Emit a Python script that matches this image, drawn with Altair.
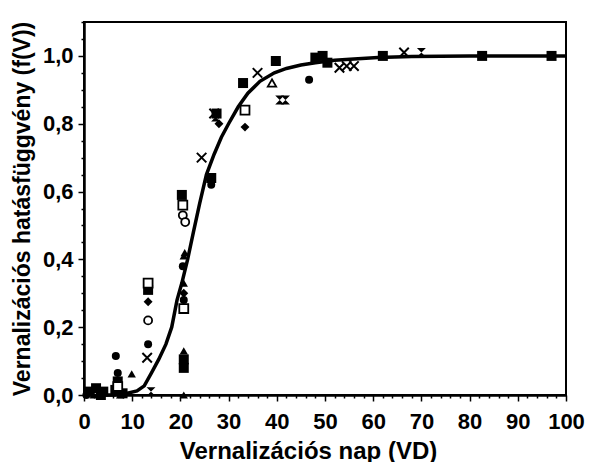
import altair as alt
import pandas as pd

# ---- data ----
# filled squares
fsq_x = [1.0, 2.5, 3.5, 4.0, 6.5, 7.0, 8.0, 13.3, 20.3, 20.7, 20.7, 26.4, 27.5, 33.0, 39.8, 48.0, 49.5, 50.5, 62.0, 82.6, 97.0]
fsq_y = [0.01, 0.02, 0.0, 0.01, 0.015, 0.04, 0.005, 0.31, 0.59, 0.105, 0.08, 0.64, 0.83, 0.92, 0.985, 0.995, 1.0, 0.98, 1.0, 1.0, 1.0]
# open squares
osq_x = [7.0, 13.3, 20.7, 20.5, 33.4]
osq_y = [0.025, 0.33, 0.255, 0.56, 0.84]
# filled circles
fci_x = [0.5, 6.6, 7.0, 13.3, 20.5, 20.7, 26.4, 46.7]
fci_y = [0.0, 0.115, 0.065, 0.15, 0.38, 0.28, 0.62, 0.93]
# open circles
oci_x = [13.3, 20.5, 21.0]
oci_y = [0.22, 0.53, 0.51]
# filled triangles
ftr_x = [2.0, 7.5, 9.9, 20.7, 20.9, 20.7, 20.7, 20.7]
ftr_y = [0.0, 0.0, 0.062, 0.41, 0.42, 0.33, 0.13, 0.0]
# open triangles
otr_x = [39.0]
otr_y = [0.92]
# crosses
crs_x = [13.1, 24.4, 27.0, 36.0, 53.0, 54.5, 56.0, 66.4]
crs_y = [0.11, 0.70, 0.83, 0.95, 0.965, 0.97, 0.97, 1.01]
# filled diamonds
dia_x = [13.3, 20.7, 28.0, 33.4]
dia_y = [0.275, 0.30, 0.80, 0.79]
# hourglass symbols
hgl_x = [13.9, 27.3, 40.6, 41.8, 70.0]
hgl_y = [0.01, 0.82, 0.87, 0.87, 1.01]
# fitted curve
curve_x = [3, 6, 9, 11, 12.5, 14, 15.5, 17, 18.2, 19.3, 20.3, 21.5, 22.7, 24, 25.4, 27, 28.5, 30, 32, 34,
           36.5, 39.5, 42, 45, 48, 52, 56, 61, 68, 80, 90, 100]
curve_y = [0.0, 0.0, 0.005, 0.012, 0.027, 0.065, 0.105, 0.15, 0.2, 0.28, 0.33, 0.40, 0.48, 0.565, 0.65, 0.71,
           0.76, 0.80, 0.85, 0.89, 0.925, 0.95, 0.963, 0.973, 0.98, 0.987, 0.991, 0.995, 0.998, 1.0, 1.0, 1.0]

# axis tick positions
x_ticks = list(range(0, 101, 2))
y_ticks = [round(i * 0.05, 2) for i in range(23)]

FONT = "Liberation Sans"

x_axis = alt.Axis(
    values=x_ticks,
    labelExpr="datum.value % 10 === 0 ? datum.label : ''",
    tickSize={"condition": {"test": "datum.value % 10 === 0", "value": 6}, "value": 3},
    grid=False, domainColor="black", domainWidth=2.5, tickColor="black", tickWidth=1.5,
    labelFont=FONT, labelFontWeight="bold", labelFontSize=22, labelColor="black",
    labelPadding=10, labelFlush=False, labelOverlap=False, labelBound=False,
    title="Vernalizációs nap (VD)", titleFont=FONT, titleFontWeight="bold", titleFontSize=24,
    titleColor="black", titleX=224, titleY=63, titleBaseline="alphabetic", titleAlign="center",
)
y_axis = alt.Axis(
    values=y_ticks,
    labelExpr="(round(datum.value*100) % 20 === 0 && datum.value < 1.05) ? replace(format(datum.value, '.1f'), '.', ',') : ''",
    tickSize={"condition": {"test": "round(datum.value*100) % 20 === 0", "value": 6}, "value": 3},
    grid=False, domainColor="black", domainWidth=2.5, tickColor="black", tickWidth=1.5,
    labelFont=FONT, labelFontWeight="bold", labelFontSize=22, labelColor="black",
    labelPadding=5, labelFlush=False, labelOverlap=False, labelBound=False,
    title="Vernalizációs hatásfüggvény (f(V))", titleFont=FONT, titleFontWeight="bold",
    titleFontSize=23, titleColor="black", titleX=-62, titleBaseline="middle", titleAlign="center",
)

X = alt.X("x:Q", scale=alt.Scale(domain=[0, 100], nice=False, zero=False), axis=x_axis)
Y = alt.Y("y:Q", scale=alt.Scale(domain=[0, 1.1], nice=False, zero=False), axis=y_axis)


def df(xs, ys):
    return pd.DataFrame({"x": xs, "y": ys})


curve = alt.Chart(df(curve_x, curve_y)).mark_line(color="black", strokeWidth=3.5).encode(x=X, y=Y)


def filled(xs, ys, shape, size):
    return alt.Chart(df(xs, ys)).mark_point(shape=shape, size=size, filled=True, color="black",
                                            opacity=1).encode(x=X, y=Y)


def hollow(xs, ys, shape, size):
    return alt.Chart(df(xs, ys)).mark_point(shape=shape, size=size, filled=True, fill="white",
                                            stroke="black", strokeWidth=1.8, opacity=1,
                                            fillOpacity=1).encode(x=X, y=Y)


layers = [
    curve,
    filled(fsq_x, fsq_y, "square", 100),
    hollow(osq_x, osq_y, "square", 80),
    filled(fci_x, fci_y, "circle", 64),
    hollow(oci_x, oci_y, "circle", 64),
    filled(ftr_x, ftr_y, "triangle-up", 70),
    hollow(otr_x, otr_y, "triangle-up", 70),
    alt.Chart(df(crs_x, crs_y)).mark_point(shape="M-1,-1L1,1M-1,1L1,-1", size=90, filled=False,
                                           color="black", strokeWidth=2, opacity=1).encode(x=X, y=Y),
    filled(dia_x, dia_y, "diamond", 80),
    filled(hgl_x, hgl_y, "M-1,-1L1,-1L-1,1L1,1Z", 80),
]

chart = alt.layer(*layers).properties(
    width=482, height=373,
    padding={"left": 76, "top": 14, "right": 20, "bottom": 67},
    autosize=alt.AutoSizeParams(type="none"),
    background="white",
).configure_view(stroke="black", strokeWidth=2)

chart.save("out.html", embed_options={"renderer": "svg", "actions": False})
